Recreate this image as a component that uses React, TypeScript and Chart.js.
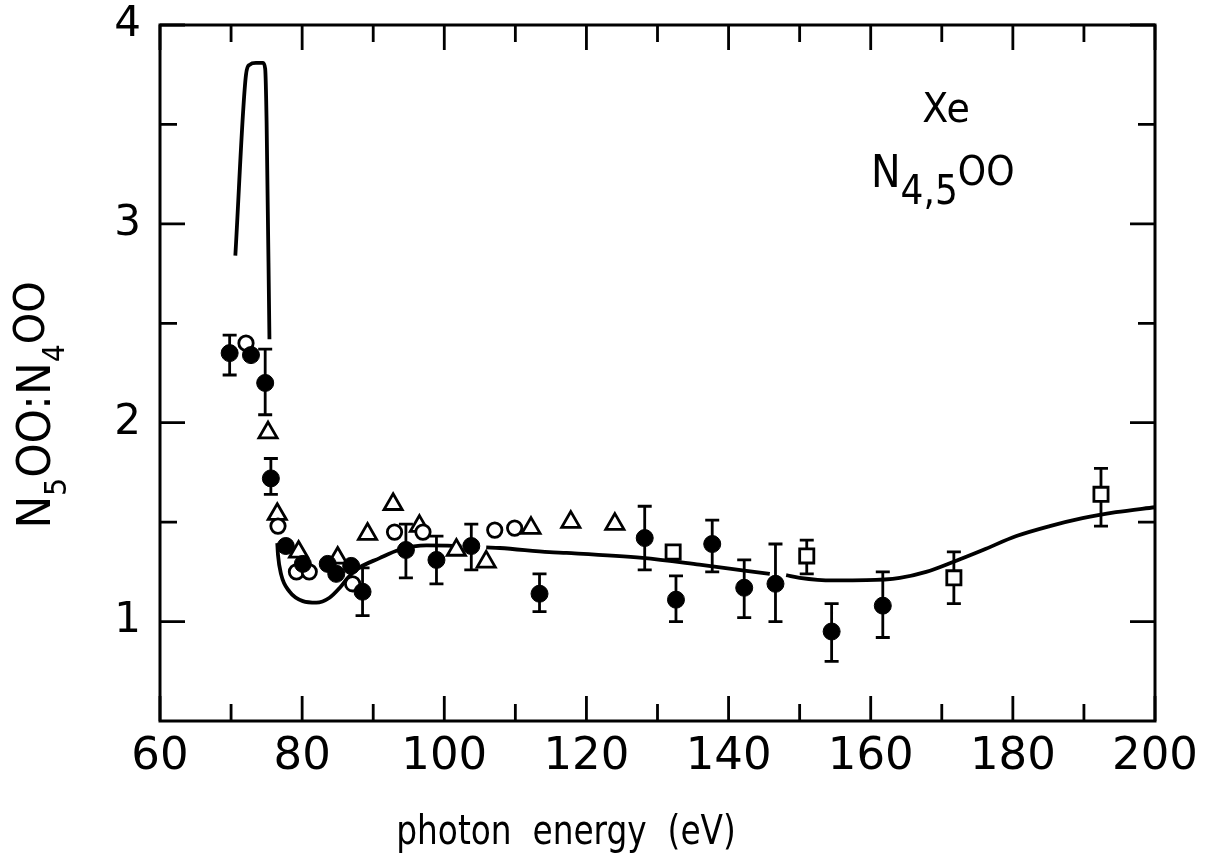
import React, { useEffect, useRef } from 'react';
import { Chart, registerables } from 'chart.js';

Chart.register(...registerables);

// ---- axis ticks ----
const xTickValues = [60, 80, 100, 120, 140, 160, 180, 200];
const xMinorTicks = [70, 90, 110, 130, 150, 170, 190];
const yTickValues = [1, 2, 3, 4];
const yMinorTicks = [1.5, 2.5, 3.5];

// ---- filled circles (with error bars) ----
const filledX = [69.8, 72.8, 74.8, 75.6, 77.7, 80.1, 83.6, 84.8, 86.9, 88.5, 94.6, 98.9, 103.8, 113.4, 128.2, 132.6, 137.7, 142.2, 146.6, 154.5, 161.7];
const filledY = [2.35, 2.34, 2.20, 1.72, 1.38, 1.29, 1.29, 1.24, 1.28, 1.15, 1.36, 1.31, 1.38, 1.14, 1.42, 1.11, 1.39, 1.17, 1.19, 0.95, 1.08];
const filledErrHigh = [2.44, null, 2.37, 1.82, null, null, null, null, null, 1.27, 1.49, 1.43, 1.49, 1.24, 1.58, 1.23, 1.51, 1.31, 1.39, 1.09, 1.25];
const filledErrLow = [2.24, null, 2.04, 1.64, null, null, null, null, null, 1.03, 1.22, 1.19, 1.26, 1.05, 1.26, 1.00, 1.25, 1.02, 1.00, 0.80, 0.92];

// ---- open circles ----
const openX = [72.1, 76.6, 79.2, 81.0, 87.1, 93.0, 97.0, 107.1, 109.9];
const openY = [2.40, 1.48, 1.25, 1.25, 1.19, 1.45, 1.45, 1.46, 1.47];

// ---- open triangles ----
const triX = [75.2, 76.5, 79.5, 85.0, 89.2, 92.8, 96.5, 101.7, 105.9, 112.2, 117.8, 124.0];
const triY = [1.95, 1.54, 1.35, 1.32, 1.44, 1.59, 1.48, 1.36, 1.30, 1.47, 1.50, 1.49];

// ---- open squares (with error bars) ----
const sqX = [132.2, 151.0, 171.7, 192.4];
const sqY = [1.35, 1.33, 1.22, 1.64];
const sqErrHigh = [null, 1.41, 1.35, 1.77];
const sqErrLow = [null, 1.24, 1.09, 1.48];

// ---- theory curve (null = break in the line) ----
const curveX = [
  70.6, 72.1, 72.6, 73.5, 74.5, 74.8, 75.0, 75.4, 76.0,
  76.5, 76.6, 77.05, 78.2, 80.1, 82.0, 83.85, 85.3, 86.4, 87.6, 90.9, 93.7, 97.5, 101.2, 102.4, 104.0,
  105.9, 107.8, 114.8, 117.2, 127.9, 135.9, 145.8, 147.0,
  148.1, 150.0, 154.7, 159.4, 164.1, 167.8, 171.6, 175.8, 180.5, 185.2, 189.8, 194.5, 200,
];
const curveY = [
  2.84, 3.75, 3.80, 3.81, 3.81, 3.78, 3.51, 2.42, null,
  1.395, 1.336, 1.236, 1.152, 1.103, 1.095, 1.12, 1.17, 1.219, 1.261, 1.319, 1.361, 1.383, 1.381, 1.378, null,
  1.373, 1.37, 1.349, 1.345, 1.32, 1.286, 1.24, null,
  1.233, 1.22, 1.207, 1.208, 1.22, 1.25, 1.30, 1.36, 1.43, 1.48, 1.52, 1.55, 1.575,
];

const FONT = '"DejaVu Sans", sans-serif';

type Run = { t: string; s: number; dy: number };

function runsWidth(ctx: CanvasRenderingContext2D, runs: Run[]) {
  let w = 0;
  for (const r of runs) {
    ctx.font = `${r.s}px ${FONT}`;
    w += ctx.measureText(r.t).width;
  }
  return w;
}

function drawRuns(ctx: CanvasRenderingContext2D, runs: Run[], x: number, y: number) {
  let cx = x;
  for (const r of runs) {
    ctx.font = `${r.s}px ${FONT}`;
    ctx.fillText(r.t, cx, y + r.dy);
    cx += ctx.measureText(r.t).width;
  }
}

const decorPlugin = {
  id: 'decor',
  beforeDatasetsDraw(chart: any) {
    const { ctx, scales } = chart;
    const xs = scales.x;
    const ys = scales.y;
    ctx.save();
    ctx.strokeStyle = '#000';
    ctx.lineWidth = 2.8;
    const bars = (X: number[], lo: (number | null)[], hi: (number | null)[]) => {
      ctx.beginPath();
      for (let i = 0; i < X.length; i++) {
        const l = lo[i];
        const h = hi[i];
        if (l == null || h == null) continue;
        const px = xs.getPixelForValue(X[i]);
        const pl = ys.getPixelForValue(l);
        const ph = ys.getPixelForValue(h);
        ctx.moveTo(px, pl);
        ctx.lineTo(px, ph);
        ctx.moveTo(px - 7, pl);
        ctx.lineTo(px + 7, pl);
        ctx.moveTo(px - 7, ph);
        ctx.lineTo(px + 7, ph);
      }
      ctx.stroke();
    };
    bars(filledX, filledErrLow, filledErrHigh);
    bars(sqX, sqErrLow, sqErrHigh);
    ctx.restore();
  },
  afterDraw(chart: any) {
    const { ctx, chartArea: a, scales } = chart;
    const xs = scales.x;
    const ys = scales.y;
    ctx.save();
    ctx.strokeStyle = '#000';
    ctx.fillStyle = '#000';
    ctx.lineWidth = 3;
    ctx.strokeRect(a.left, a.top, a.right - a.left, a.bottom - a.top);

    ctx.lineWidth = 2.8;
    ctx.beginPath();
    const xt = (vals: number[], len: number) => {
      for (const v of vals) {
        const p = xs.getPixelForValue(v);
        ctx.moveTo(p, a.bottom);
        ctx.lineTo(p, a.bottom - len);
        ctx.moveTo(p, a.top);
        ctx.lineTo(p, a.top + len);
      }
    };
    const yt = (vals: number[], len: number) => {
      for (const v of vals) {
        const p = ys.getPixelForValue(v);
        ctx.moveTo(a.left, p);
        ctx.lineTo(a.left + len, p);
        ctx.moveTo(a.right, p);
        ctx.lineTo(a.right - len, p);
      }
    };
    xt(xTickValues, 25);
    xt(xMinorTicks, 17);
    yt(yTickValues, 25);
    yt(yMinorTicks, 17);
    ctx.stroke();

    ctx.textBaseline = 'alphabetic';
    ctx.textAlign = 'left';

    // annotation
    ctx.save();
    ctx.translate(946, 122);
    ctx.scale(0.95, 1);
    ctx.font = `40px ${FONT}`;
    ctx.textAlign = 'center';
    ctx.fillText('Xe', 0, 0);
    ctx.restore();

    const ann: Run[] = [
      { t: 'N', s: 44, dy: 0 },
      { t: '4,5', s: 40, dy: 17 },
      { t: 'OO', s: 40, dy: -2 },
    ];
    ctx.save();
    ctx.translate(871, 187);
    ctx.scale(0.9, 1);
    drawRuns(ctx, ann, 0, 0);
    ctx.restore();

    // x axis title
    ctx.save();
    ctx.translate(566, 844);
    ctx.scale(0.8, 1);
    ctx.font = `41px ${FONT}`;
    ctx.textAlign = 'center';
    ctx.fillText('photon  energy  (eV)', 0, 0);
    ctx.restore();

    // y axis title
    const yt2: Run[] = [
      { t: 'N', s: 46, dy: 0 },
      { t: '5', s: 30, dy: 16 },
      { t: 'OO:N', s: 46, dy: 0 },
      { t: '4', s: 30, dy: 14 },
      { t: 'OO', s: 42, dy: -6 },
    ];
    ctx.save();
    ctx.translate(50, 405);
    ctx.rotate(-Math.PI / 2);
    ctx.scale(0.95, 1);
    const w = runsWidth(ctx, yt2);
    drawRuns(ctx, yt2, -w / 2, 0);
    ctx.restore();

    ctx.restore();
  },
};

export default function App() {
  const ref = useRef<HTMLCanvasElement>(null);

  useEffect(() => {
    const canvas = ref.current;
    if (!canvas) return;
    const pts = (X: number[], Y: (number | null)[]) => X.map((x, i) => ({ x, y: Y[i] }));

    const chart = new Chart(canvas, {
      type: 'scatter',
      data: {
        datasets: [
          {
            label: 'filled',
            data: pts(filledX, filledY),
            pointStyle: 'circle',
            pointRadius: 8.5,
            backgroundColor: '#000',
            borderColor: '#000',
            borderWidth: 1,
            order: 1,
          },
          {
            label: 'open circles',
            data: pts(openX, openY),
            pointStyle: 'circle',
            pointRadius: 7.2,
            backgroundColor: '#fff',
            borderColor: '#000',
            borderWidth: 2.8,
            order: 2,
          },
          {
            label: 'triangles',
            data: pts(triX, triY),
            pointStyle: 'triangle',
            pointRadius: 10.5,
            backgroundColor: '#fff',
            borderColor: '#000',
            borderWidth: 2.8,
            order: 3,
          },
          {
            label: 'squares',
            data: pts(sqX, sqY),
            pointStyle: 'rect',
            pointRadius: 10,
            backgroundColor: '#fff',
            borderColor: '#000',
            borderWidth: 2.8,
            order: 4,
          },
          {
            label: 'theory',
            data: pts(curveX, curveY) as any,
            showLine: true,
            spanGaps: false,
            pointRadius: 0,
            borderColor: '#000',
            borderWidth: 3.8,
            cubicInterpolationMode: 'monotone',
            fill: false,
            order: 10,
          } as any,
        ],
      },
      options: {
        responsive: false,
        animation: false,
        devicePixelRatio: 1,
        events: [],
        layout: { padding: { top: 25, right: 62, left: 0, bottom: 0 } },
        plugins: {
          legend: { display: false },
          tooltip: { enabled: false },
          title: { display: false },
        },
        scales: {
          x: {
            type: 'linear',
            min: 60,
            max: 200,
            grid: { display: false, drawTicks: false },
            border: { display: false },
            afterBuildTicks: (s: any) => {
              s.ticks = xTickValues.map((v) => ({ value: v }));
            },
            afterFit: (s: any) => {
              s.height = 140;
              s.paddingLeft = 0;
              s.paddingRight = 0;
            },
            ticks: {
              color: '#000',
              font: { family: FONT, size: 45 },
              padding: 9,
              maxRotation: 0,
              autoSkip: false,
              callback: (v: any) => String(v),
            },
          },
          y: {
            type: 'linear',
            min: 0.5,
            max: 4,
            grid: { display: false, drawTicks: false },
            border: { display: false },
            afterBuildTicks: (s: any) => {
              s.ticks = yTickValues.map((v) => ({ value: v }));
            },
            afterFit: (s: any) => {
              s.width = 160;
              s.paddingTop = 0;
              s.paddingBottom = 0;
            },
            ticks: {
              color: '#000',
              font: { family: FONT, size: 42 },
              padding: 19,
              autoSkip: false,
              callback: (v: any) => String(v),
            },
          },
        },
      } as any,
      plugins: [decorPlugin],
    });

    return () => chart.destroy();
  }, []);

  return (
    <div style={{ position: 'fixed', left: 0, top: 0, width: 1217, height: 861, background: '#fff' }}>
      <canvas ref={ref} width={1217} height={861} style={{ display: 'block' }} />
    </div>
  );
}
